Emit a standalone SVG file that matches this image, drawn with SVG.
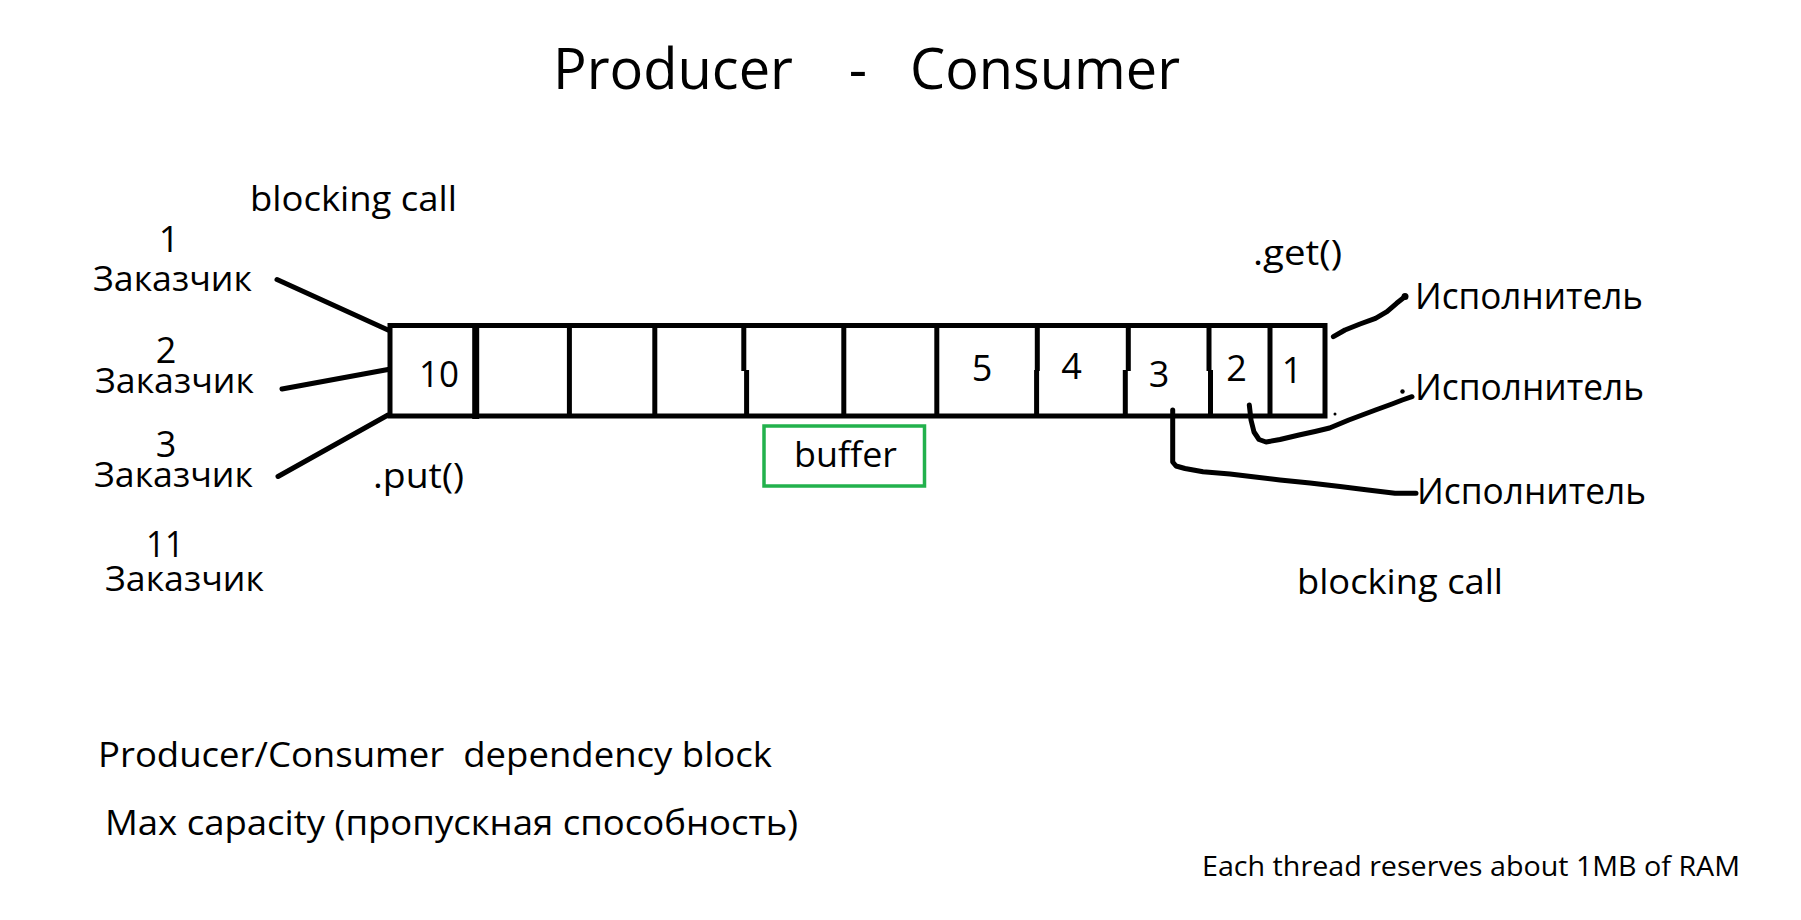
<svg xmlns="http://www.w3.org/2000/svg" width="1801" height="920" viewBox="0 0 1801 920">
<style>
text{font-family:"Open Sans","Noto Sans","DejaVu Sans",sans-serif;fill:#000;}
.t57{font-size:57px;}
.t34{font-size:34px;}
.t36{font-size:36px;}
.t28{font-size:28px;}
.ln{stroke:#000;stroke-width:5;fill:none;stroke-linecap:round;stroke-linejoin:round;}
.cell{stroke:#000;stroke-width:5;fill:none;stroke-linecap:butt;}
.grn{stroke:#22b14c;stroke-width:3.5;fill:none;}
</style>
<rect x="0" y="0" width="1801" height="920" fill="#fff"/>

<g id="title">
<text class="t57" x="553" y="89" textLength="240" lengthAdjust="spacingAndGlyphs">Producer</text>
<text class="t57" x="858" y="89" text-anchor="middle">-</text>
<text class="t57" x="910" y="89" textLength="270" lengthAdjust="spacingAndGlyphs">Consumer</text>
</g>

<g id="producer-blocking">
<text class="t34" x="250" y="211" textLength="207" lengthAdjust="spacingAndGlyphs">blocking call</text>
</g>

<g id="producer-1">
<text class="t36" x="169" y="252" text-anchor="middle">1</text>
<text class="t34" x="93" y="291" textLength="159" lengthAdjust="spacingAndGlyphs">Заказчик</text>
</g>
<g id="producer-2">
<text class="t36" x="166" y="363" text-anchor="middle">2</text>
<text class="t34" x="95" y="393" textLength="159" lengthAdjust="spacingAndGlyphs">Заказчик</text>
</g>
<g id="producer-3">
<text class="t36" x="166" y="457" text-anchor="middle">3</text>
<text class="t34" x="94" y="487" textLength="159" lengthAdjust="spacingAndGlyphs">Заказчик</text>
</g>
<g id="producer-11">
<text class="t36" x="165" y="557" text-anchor="middle" textLength="38" lengthAdjust="spacingAndGlyphs">11</text>
<text class="t34" x="105" y="591" textLength="159" lengthAdjust="spacingAndGlyphs">Заказчик</text>
</g>

<g id="put-label">
<text class="t34" x="373" y="488" textLength="91" lengthAdjust="spacingAndGlyphs">.put()</text>
</g>

<g id="queue">
<rect class="cell" x="390" y="325.5" width="935" height="90.5"/>
<path class="cell" d="M475.7,323 V419" style="stroke-width:7"/>
<path class="cell" d="M569.4,325 V416"/>
<path class="cell" d="M654.8,325 V416"/>
<path class="cell" d="M743.8,325 V371 M746.6,370 V416"/>
<path class="cell" d="M843.8,325 V416"/>
<path class="cell" d="M936.8,325 V416"/>
<path class="cell" d="M1037.3,325 V371 M1036.6,370 V416"/>
<path class="cell" d="M1128.3,325 V371 M1125.3,370 V416"/>
<path class="cell" d="M1209,325 V371 M1210.5,370 V416"/>
<path class="cell" d="M1270,325 V416"/>
<text class="t36" x="439" y="387" text-anchor="middle" textLength="40" lengthAdjust="spacingAndGlyphs">10</text>
<text class="t36" x="982" y="381" text-anchor="middle">5</text>
<text class="t36" x="1071.5" y="379" text-anchor="middle">4</text>
<text class="t36" x="1159" y="387" text-anchor="middle">3</text>
<text class="t36" x="1236.5" y="381" text-anchor="middle">2</text>
<text class="t36" x="1292" y="383" text-anchor="middle">1</text>
</g>

<g id="buffer">
<rect class="grn" x="764" y="426" width="160.5" height="60"/>
<text class="t34" x="794" y="467" textLength="103" lengthAdjust="spacingAndGlyphs">buffer</text>
</g>

<g id="get-label">
<text class="t34" x="1253" y="265" textLength="89" lengthAdjust="spacingAndGlyphs">.get()</text>
</g>

<g id="consumer-1">
<text class="t36" x="1415" y="309" textLength="228" lengthAdjust="spacingAndGlyphs">Исполнитель</text>
</g>
<g id="consumer-2">
<text class="t36" x="1415" y="400" textLength="229" lengthAdjust="spacingAndGlyphs">Исполнитель</text>
</g>
<g id="consumer-3">
<text class="t36" x="1417" y="504" textLength="229" lengthAdjust="spacingAndGlyphs">Исполнитель</text>
</g>

<g id="consumer-blocking">
<text class="t34" x="1297" y="594" textLength="206" lengthAdjust="spacingAndGlyphs">blocking call</text>
</g>

<g id="connectors">
<path class="ln" d="M277,279.5 L388,330"/>
<path class="ln" d="M282,389 L388,369.5"/>
<path class="ln" d="M278,476.5 L388,415"/>
<polyline class="ln" points="1333.4,336.7 1345,330 1360,324 1375.5,318.3 1387,311.7 1396.6,303.3 1404.2,297.3"/>
<circle cx="1405" cy="296.5" r="3.5" fill="#000"/>
<polyline class="ln" points="1249.3,405 1251,420 1254,432 1259,439.5 1266,442 1280,439.5 1299,435 1315,431.5 1329.6,428 1348.8,420 1375.5,410 1392,404 1402.3,400 1412,396.7"/>
<polyline class="ln" points="1172.7,410 1172.7,462 1176,466 1185,468.5 1203,471.7 1230,474 1253,476.7 1280,480 1310,483 1340,486.5 1368,490 1395,493.3 1416,493.3"/>
<circle cx="1402.5" cy="391.5" r="2.2" fill="#000"/>
<circle cx="1335" cy="414" r="1.5" fill="#000"/>
</g>

<g id="notes">
<text class="t34" x="98" y="767" textLength="674" lengthAdjust="spacingAndGlyphs" xml:space="preserve">Producer/Consumer  dependency block</text>
<text class="t34" x="105" y="835" textLength="693" lengthAdjust="spacingAndGlyphs">Max capacity (пропускная способность)</text>
<text class="t28" x="1202" y="876" textLength="538" lengthAdjust="spacingAndGlyphs">Each thread reserves about 1MB of RAM</text>
</g>
</svg>
